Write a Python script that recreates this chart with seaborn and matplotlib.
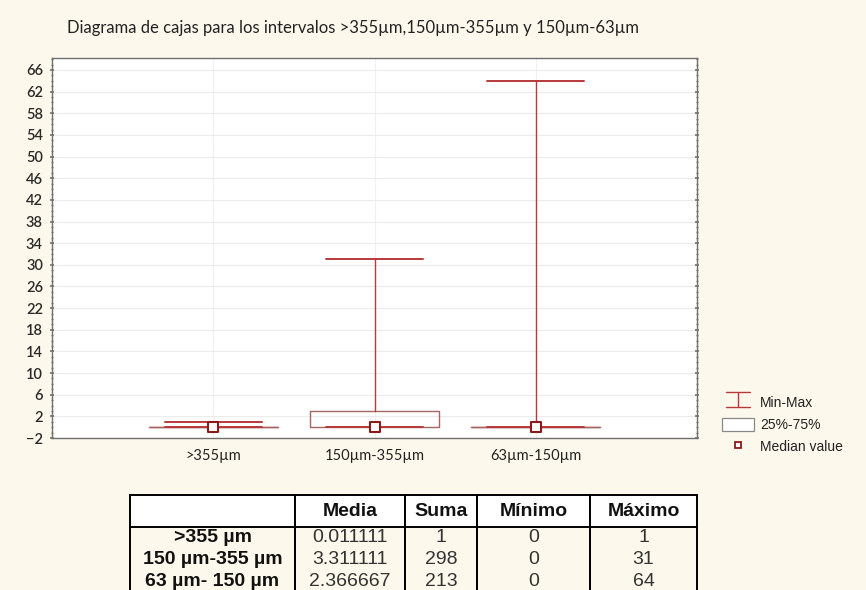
import numpy as np
import pandas as pd
import matplotlib
matplotlib.use("Agg")
import matplotlib.pyplot as plt
import seaborn as sns
from matplotlib.legend_handler import HandlerBase
from matplotlib.lines import Line2D
from matplotlib.patches import Rectangle

# Size classes and their five-number summaries
categories = [">355µm", "150µm-355µm", "63µm-150µm"]
minimum = [0, 0, 0]
q1 = [0, 0, 0]
median = [0, 0, 0]
q3 = [0, 3, 0]
maximum = [1, 31, 64]

# Summary table
table_rows = [">355 µm", "150 µm-355 µm", "63 µm- 150 µm"]
table_cols = ["Media", "Suma", "Mínimo", "Máximo"]
media = ["0.011111", "3.311111", "2.366667"]
suma = [1, 298, 213]
minimo = [0, 0, 0]
maximo = [1, 31, 64]

title = "Diagrama de cajas para los intervalos >355µm,150µm-355µm y 150µm-63µm"

BG = "#fdf8ec"
WHISK = "#b8393b"
BOXC = "#a86565"
MEDC = "#8b1a1a"

sns.set_theme(style="whitegrid")
plt.rcParams["font.family"] = ["Lato", "DejaVu Sans"]

fig = plt.figure(figsize=(8.66, 5.90), dpi=100, facecolor=BG)
ax = fig.add_axes([0.060, 0.2576, 0.745, 0.644])
ax.set_facecolor("white")

stats = []
for c, lo, a, m, b, hi in zip(categories, minimum, q1, median, q3, maximum):
    stats.append(dict(label=c, whislo=lo, q1=a, med=m, q3=b, whishi=hi))

pos = np.arange(len(categories))
ax.bxp(stats, positions=pos, widths=0.8, capwidths=0.6, showfliers=False,
       patch_artist=False,
       boxprops=dict(color=BOXC, linewidth=1.0),
       whiskerprops=dict(color=WHISK, linewidth=1.0),
       capprops=dict(color=WHISK, linewidth=1.4),
       medianprops=dict(linewidth=0), zorder=3)

df = pd.DataFrame({"cat": pos, "median": median})
sns.scatterplot(data=df, x="cat", y="median", marker="s", s=42,
                facecolor="white", edgecolor=MEDC, linewidth=1.5, ax=ax,
                zorder=5, legend=False)

ax.set_xlim(-1, 3)
ax.set_ylim(-2, 68.2)
ax.set_xticks(pos)
ax.set_xticklabels(categories, fontsize=10.5, color="#222222")
ax.set_yticks(np.arange(-2, 67, 4))
ax.set_yticks(np.arange(-2, 68.2, 1), minor=True)
ax.tick_params(axis="y", which="major", labelsize=10.5, labelcolor="#2a2a2a",
               length=3, color="#777777", direction="inout", left=True,
               right=True, pad=5)
ax.tick_params(axis="y", which="minor", length=2, color="#777777",
               direction="inout", left=True, right=True)
for lab in ax.get_yticklabels():
    lab.set_fontweight("semibold")
ax.tick_params(axis="x", length=0, pad=8)
ax.set_xlabel("")
ax.set_ylabel("")
ax.grid(True, axis="y", color="#ebebeb", linewidth=0.8)
ax.grid(True, axis="x", color="#f0f0f0", linewidth=0.8)
for s in ax.spines.values():
    s.set_color("#707070")
    s.set_linewidth(1.0)

fig.text(67 / 866, 0.952, title, fontsize=12, color="#222222", va="center",
         ha="left")


# Legend entry showing a min-max range symbol
class MinMaxHandler(HandlerBase):
    def create_artists(self, legend, orig, xd, yd, w, h, fs, trans):
        cx = xd + w / 2
        lines = [
            Line2D([cx, cx], [yd - 1, yd + h + 1], color=WHISK, lw=1.0),
            Line2D([xd + 3, xd + w - 3], [yd + h + 1, yd + h + 1], color=WHISK, lw=1.0),
            Line2D([xd + 3, xd + w - 3], [yd - 1, yd - 1], color=WHISK, lw=1.0),
        ]
        for ln in lines:
            ln.set_transform(trans)
        return lines


h_minmax = Line2D([], [], color=WHISK)
h_box = Rectangle((0, 0), 1, 1, facecolor="white", edgecolor="#8a8a8a", lw=0.9)
h_med = Line2D([], [], marker="s", linestyle="none", markersize=4.5,
               markerfacecolor="white", markeredgecolor=MEDC, markeredgewidth=1.3)
leg = fig.legend([h_minmax, h_box, h_med], ["Min-Max", "25%-75%", "Median value"],
                 handler_map={h_minmax: MinMaxHandler()},
                 loc="upper left", bbox_to_anchor=(722 / 866, 0.328),
                 frameon=False, prop={"family": "Liberation Sans", "size": 10},
                 handlelength=2.3, handleheight=1.0, labelspacing=0.55,
                 handletextpad=0.45, borderpad=0, borderaxespad=0)
for t in leg.get_texts():
    t.set_color("#222222")

# Summary table below the chart (runs off the bottom edge)
t_top, t_bot = 495, 593
tax = fig.add_axes([130 / 866, 1 - t_bot / 590, (697 - 130) / 866,
                    (t_bot - t_top) / 590])
tax.axis("off")
cell_text = [[""] + table_cols]
for r, m, su, mi, ma in zip(table_rows, media, suma, minimo, maximo):
    cell_text.append([r, m, str(su), str(mi), str(ma)])
col_w = np.array([165, 110, 72, 113, 107], dtype=float)
col_w = col_w / col_w.sum()
row_h = [32, 22, 22, 22]
tbl = tax.table(cellText=cell_text, colWidths=col_w, cellLoc="center",
                bbox=[0, 0, 1, 1])
tbl.auto_set_font_size(False)
for (i, j), cell in tbl.get_celld().items():
    cell.set_height(row_h[i] / sum(row_h))
    cell.set_facecolor("white")
    cell.set_edgecolor("black")
    cell.set_linewidth(1.4)
    txt = cell.get_text()
    txt.set_fontsize(14)
    txt.set_fontfamily("Liberation Sans")
    if i == 0:
        cell.visible_edges = "closed"
        txt.set_fontweight("bold")
        txt.set_color("#111111")
    else:
        cell.visible_edges = "LR"
        txt.set_color("#333333")
    if j == 0 and i > 0:
        txt.set_fontweight("bold")
        txt.set_color("#111111")

fig.savefig("out.png", dpi=100, facecolor=BG)
